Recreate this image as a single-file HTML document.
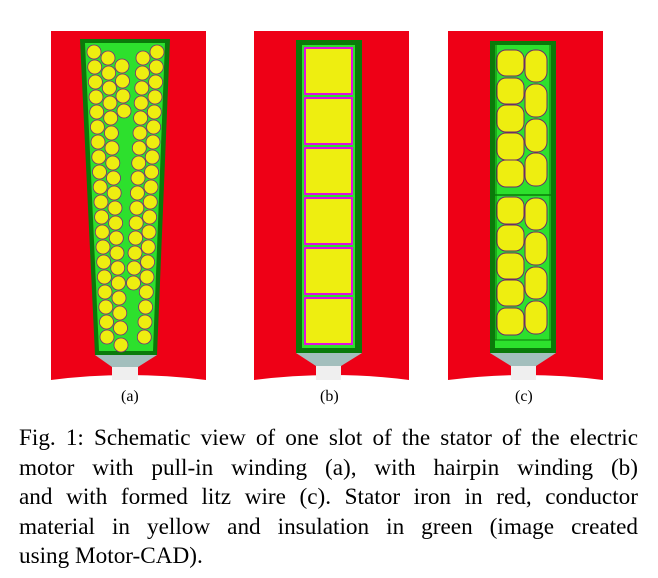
<!DOCTYPE html>
<html><head><style>
body{margin:0;background:#fff;width:658px;height:578px;overflow:hidden;position:relative}
.cap{position:absolute;left:19px;width:619px;font-family:"Liberation Serif",serif;font-size:23.2px;line-height:29.5px;top:424px;color:#000}
.cap div{text-align:justify;text-align-last:justify;white-space:nowrap}
.cap div.l{text-align-last:left}
.lb{position:absolute;font-family:"Liberation Serif",serif;font-size:16px;top:388px}
</style></head><body>
<svg width="658" height="420" style="position:absolute;left:0;top:0">
<!-- panel a -->
<path d="M51 31H206V380Q128 370 51 380Z" fill="#ee0016"/>
<polygon points="80,39 170,39 157,355 95,355" fill="#0a7a0a"/>
<polygon points="85,43 165,43 153,351 99,351" fill="#2de02d"/>
<polygon points="95,355 157,355 138,367 112,367" fill="#a3bfbd"/>
<rect x="112" y="367" width="26" height="13" fill="#efefef"/>
<!-- panel b -->
<path d="M254 31H409V380Q332 370 254 380Z" fill="#ee0016"/>
<rect x="296" y="40" width="66" height="313" fill="#0a7a0a"/>
<rect x="302" y="45" width="53" height="303" fill="#2de02d"/>
<g fill="#eeee10" stroke="#e010e0" stroke-width="2">
<rect x="305" y="48" width="47" height="46"/><rect x="305" y="98" width="47" height="46"/>
<rect x="305" y="148" width="47" height="46"/><rect x="305" y="198" width="47" height="46"/>
<rect x="305" y="248" width="47" height="46"/><rect x="305" y="298" width="47" height="46"/>
</g>
<polygon points="296,353 362,353 341,366 316,366" fill="#a3bfbd"/>
<rect x="316" y="366" width="25" height="14" fill="#efefef"/>
<!-- panel c -->
<path d="M448 31H603V380Q526 370 448 380Z" fill="#ee0016"/>
<rect x="490" y="41" width="66" height="312" fill="#0a7a0a"/>
<rect x="495" y="45" width="56" height="303" fill="#2de02d"/>
<line x1="495" y1="195" x2="551" y2="195" stroke="#0a7a0a" stroke-width="1.5"/>
<line x1="496" y1="45" x2="496" y2="340" stroke="#0a7a0a" stroke-width="1"/>
<line x1="550" y1="45" x2="550" y2="340" stroke="#0a7a0a" stroke-width="1"/>
<line x1="495" y1="340" x2="551" y2="340" stroke="#0a7a0a" stroke-width="1"/>
<g fill="#eeee10" stroke="#6a2a6a" stroke-width="1">
<rect x="497" y="50" width="27" height="26" rx="9"/><rect x="497" y="78" width="27" height="26" rx="9"/>
<rect x="497" y="105" width="27" height="27" rx="9"/><rect x="497" y="133" width="27" height="27" rx="9"/>
<rect x="497" y="160" width="27" height="27" rx="9"/>
<rect x="525" y="50" width="22" height="32" rx="10"/><rect x="525" y="84" width="22" height="33" rx="10"/>
<rect x="525" y="119" width="22" height="33" rx="10"/><rect x="525" y="153" width="22" height="33" rx="10"/>
<rect x="497" y="197" width="27" height="27" rx="9"/><rect x="497" y="225" width="27" height="26" rx="9"/>
<rect x="497" y="253" width="27" height="26" rx="9"/><rect x="497" y="280" width="27" height="26" rx="9"/>
<rect x="497" y="308" width="27" height="27" rx="9"/>
<rect x="525" y="198" width="22" height="32" rx="10"/><rect x="525" y="232" width="22" height="33" rx="10"/>
<rect x="525" y="267" width="22" height="32" rx="10"/><rect x="525" y="301" width="22" height="33" rx="10"/>
</g>
<polygon points="490,353 556,353 536,366 511,366" fill="#a3bfbd"/>
<rect x="511" y="366" width="25" height="14" fill="#efefef"/>
<g fill="#eeee10" stroke="#7a2a7a" stroke-width="0.8">
<circle cx="94" cy="52" r="7"/><circle cx="94.7" cy="67" r="7"/><circle cx="95.4" cy="82" r="7"/><circle cx="96" cy="97" r="7"/><circle cx="96.7" cy="112" r="7"/><circle cx="97.4" cy="127" r="7"/><circle cx="98" cy="142" r="7"/><circle cx="98.8" cy="157" r="7"/><circle cx="99.5" cy="172" r="7"/><circle cx="100.2" cy="187" r="7"/><circle cx="101" cy="202" r="7"/><circle cx="101.6" cy="217" r="7"/><circle cx="102.3" cy="232" r="7"/><circle cx="103" cy="247" r="7"/><circle cx="103.7" cy="262" r="7"/><circle cx="104.4" cy="277" r="7"/><circle cx="105" cy="292" r="7"/><circle cx="105.8" cy="307" r="7"/><circle cx="106.5" cy="322" r="7"/><circle cx="107" cy="337" r="7"/>
<circle cx="108" cy="58" r="7"/><circle cx="108.7" cy="73" r="7"/><circle cx="109.4" cy="88" r="7"/><circle cx="110" cy="103" r="7"/><circle cx="110.7" cy="118" r="7"/><circle cx="111.4" cy="133" r="7"/><circle cx="112" cy="148" r="7"/><circle cx="112.8" cy="163" r="7"/><circle cx="113.5" cy="178" r="7"/><circle cx="114.2" cy="193" r="7"/><circle cx="115" cy="208" r="7"/><circle cx="115.6" cy="223" r="7"/><circle cx="116.3" cy="238" r="7"/><circle cx="117" cy="253" r="7"/><circle cx="117.7" cy="268" r="7"/><circle cx="118.4" cy="283" r="7"/><circle cx="119" cy="298" r="7"/><circle cx="119.8" cy="313" r="7"/><circle cx="120.5" cy="328" r="7"/><circle cx="121" cy="345" r="7"/>
<circle cx="122" cy="66" r="7"/><circle cx="122.5" cy="81" r="7"/><circle cx="123" cy="96" r="7"/><circle cx="124" cy="111" r="7"/>
<circle cx="143" cy="58" r="7"/><circle cx="142.4" cy="73" r="7"/><circle cx="141.8" cy="88" r="7"/><circle cx="141.2" cy="103" r="7"/><circle cx="140.6" cy="118" r="7"/><circle cx="140" cy="133" r="7"/><circle cx="139.3" cy="148" r="7"/><circle cx="138.7" cy="163" r="7"/><circle cx="138" cy="178" r="7"/><circle cx="137.4" cy="193" r="7"/><circle cx="136.8" cy="208" r="7"/><circle cx="136.2" cy="223" r="7"/><circle cx="135.6" cy="238" r="7"/><circle cx="135" cy="253" r="7"/><circle cx="134.2" cy="268" r="7"/><circle cx="133.5" cy="283" r="7"/>
<circle cx="157" cy="52" r="7"/><circle cx="156.3" cy="67" r="7"/><circle cx="155.6" cy="82" r="7"/><circle cx="155" cy="97" r="7"/><circle cx="154.3" cy="112" r="7"/><circle cx="153.6" cy="127" r="7"/><circle cx="153" cy="142" r="7"/><circle cx="152.3" cy="157" r="7"/><circle cx="151.6" cy="172" r="7"/><circle cx="151" cy="187" r="7"/><circle cx="150.3" cy="202" r="7"/><circle cx="149.6" cy="217" r="7"/><circle cx="149" cy="232" r="7"/><circle cx="148.3" cy="247" r="7"/><circle cx="147.6" cy="262" r="7"/><circle cx="147" cy="277" r="7"/><circle cx="146.3" cy="292" r="7"/><circle cx="145.6" cy="307" r="7"/><circle cx="145" cy="322" r="7"/><circle cx="144.3" cy="337" r="7"/>
</g>
</svg>
<div class="lb" style="left:121px">(a)</div>
<div class="lb" style="left:320px">(b)</div>
<div class="lb" style="left:515px">(c)</div>
<div class="cap">
<div>Fig. 1: Schematic view of one slot of the stator of the electric</div>
<div>motor with pull-in winding (a), with hairpin winding (b)</div>
<div>and with formed litz wire (c). Stator iron in red, conductor</div>
<div>material in yellow and insulation in green (image created</div>
<div class="l">using Motor-CAD).</div>
</div>
</body></html>
